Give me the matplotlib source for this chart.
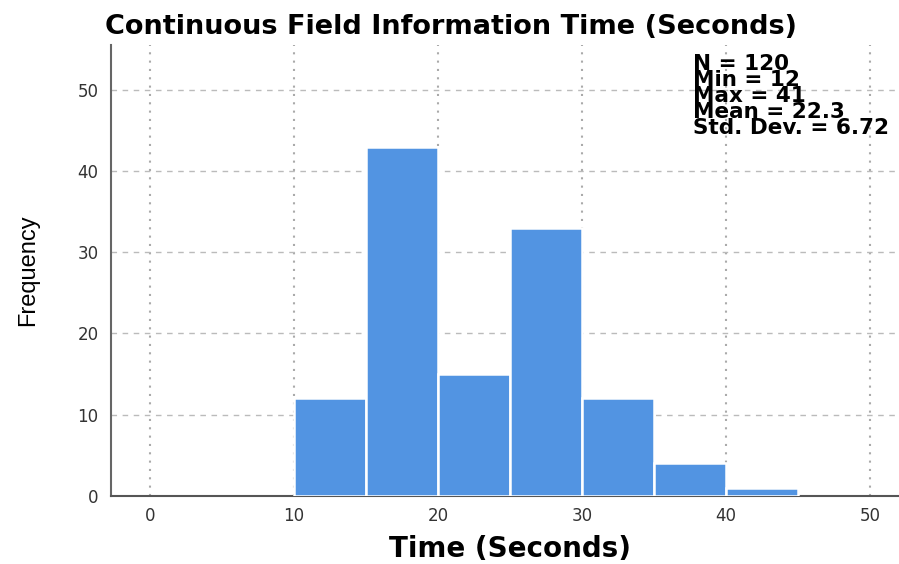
import matplotlib
matplotlib.use('Agg')
import matplotlib.pyplot as plt
import numpy as np

# histogram bins (seconds) and counts
bin_edges = [10, 15, 20, 25, 30, 35, 40, 45]
counts = [12, 43, 15, 33, 12, 4, 1]
stats_lines = ['N = 120', 'Min = 12', 'Max = 41', 'Mean = 22.3', 'Std. Dev. = 6.72']
x_ticks = [0, 10, 20, 30, 40, 50]
y_ticks = [0, 10, 20, 30, 40, 50]

fig = plt.figure(figsize=(8.99, 5.64), dpi=100)
ax = fig.add_axes([0.1235, 0.1206, 0.875, 0.7996])

lefts = np.array(bin_edges[:-1])
widths = np.diff(bin_edges)
ax.bar(lefts, counts, width=widths, align='edge', color='#5294E2',
       edgecolor='white', linewidth=1.8, zorder=3)

ax.set_xlim(-2.7, 51.9)
ax.set_ylim(0, 55.5)
ax.set_xticks(x_ticks)
ax.set_yticks(y_ticks)
ax.tick_params(length=0, labelsize=12, colors='#333333')
ax.tick_params(axis='x', pad=8)
ax.tick_params(axis='y', pad=9)
for lbl in ax.get_xticklabels() + ax.get_yticklabels():
    lbl.set_fontfamily('DejaVu Sans')

# grid: dashed horizontal, dotted vertical
ax.yaxis.grid(True, linestyle=(0, (4, 4)), color='#bbbbbb', linewidth=1, zorder=0)
ax.xaxis.grid(True, linestyle=(0, (1, 3)), color='#aaaaaa', linewidth=1.5, zorder=0)

for side in ['top', 'right']:
    ax.spines[side].set_visible(False)
ax.spines['left'].set_color('#666666')
ax.spines['left'].set_linewidth(1.5)
ax.spines['bottom'].set_color('#555555')
ax.spines['bottom'].set_linewidth(1.5)

fig.text(0.502, 0.952, 'Continuous Field Information Time (Seconds)', ha='center', va='center',
         fontsize=19.5, fontweight='bold', family='DejaVu Sans')
fig.text(0.567, 0.027, 'Time (Seconds)', ha='center', va='center',
         fontsize=20, fontweight='bold', family='DejaVu Sans')
fig.text(0.031, 0.521, 'Frequency', rotation=90, ha='center', va='center',
         fontsize=17, family='Liberation Sans')

fig.text(0.771, 0.905, '\n'.join(stats_lines), ha='left', va='top',
         fontsize=15.5, fontweight='bold', family='DejaVu Sans',
         linespacing=0.76, zorder=5)

fig.savefig('out.png', dpi=100)
